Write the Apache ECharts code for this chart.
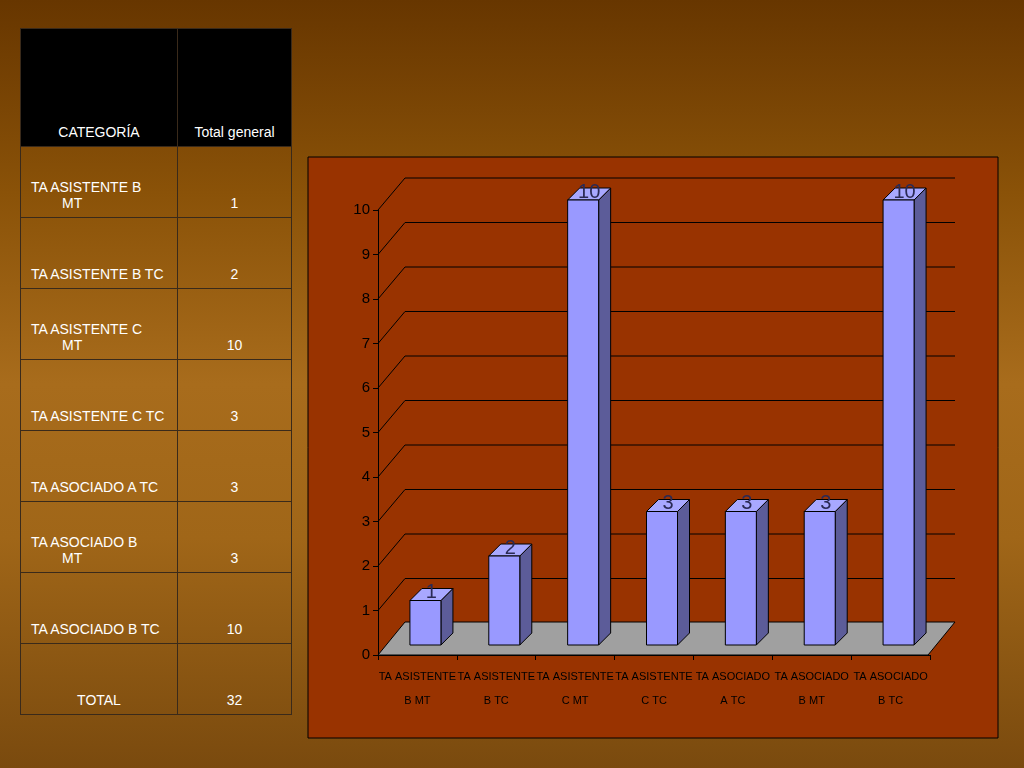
<!DOCTYPE html>
<html><head><meta charset="utf-8">
<script src="https://cdn.jsdelivr.net/npm/echarts@6/dist/echarts.min.js"></script>
<style>
html,body{margin:0;padding:0;width:1024px;height:768px;overflow:hidden;
background:linear-gradient(180deg,#673600 0%,#8a5208 25%,#a86c1c 50%,#a06618 70%,#7a4a0e 100%);font-family:"Liberation Sans",Arial,sans-serif;}
#tbl{position:absolute;left:20px;top:28px;border-collapse:collapse;color:#fff;font-size:14px;}
#tbl td{border:1px solid #3a2a1a;vertical-align:bottom;padding:0 0 6px 0;}
#tbl td.c{width:156px;}
#tbl td.v{width:113px;text-align:center;}
#chart{position:absolute;left:0;top:0;width:1024px;height:768px;}
</style></head><body>
<table id="tbl"></table>
<div id="chart"></div>
<script>
const categories=["TA ASISTENTE B MT","TA ASISTENTE B TC","TA ASISTENTE C MT","TA ASISTENTE C TC","TA ASOCIADO A TC","TA ASOCIADO B MT","TA ASOCIADO B TC"];
const tableLabels=["TA ASISTENTE B<br>&nbsp;&nbsp;&nbsp;&nbsp;&nbsp;&nbsp;&nbsp;&nbsp;MT","TA ASISTENTE B TC","TA ASISTENTE C<br>&nbsp;&nbsp;&nbsp;&nbsp;&nbsp;&nbsp;&nbsp;&nbsp;MT","TA ASISTENTE C TC","TA ASOCIADO A TC","TA ASOCIADO B<br>&nbsp;&nbsp;&nbsp;&nbsp;&nbsp;&nbsp;&nbsp;&nbsp;MT","TA ASOCIADO B TC"];
const axisLabels=["TA ASISTENTE\nB MT","TA ASISTENTE\nB TC","TA ASISTENTE\nC MT","TA ASISTENTE\nC TC","TA ASOCIADO\nA TC","TA ASOCIADO\nB MT","TA ASOCIADO\nB TC"];
const values=[1,2,10,3,3,3,10];
const total=32;
const gridValues=[0,1,2,3,4,5,6,7,8,9,10];

let h='<tr style="height:118px;background:#000"><td class="c" style="text-align:center">CATEGORÍA</td><td class="v">Total general</td></tr>';
tableLabels.forEach((l,i)=>{h+=`<tr style="height:71px"><td class="c" style="padding-left:10px;width:146px">${l}</td><td class="v">${values[i]}</td></tr>`;});
h+=`<tr style="height:71px"><td class="c" style="text-align:center">TOTAL</td><td class="v">${total}</td></tr>`;
document.getElementById('tbl').innerHTML=h;

const chart=echarts.init(document.getElementById('chart'));
const DX=12,DY=-12,FX=8,FY=-10,BW=31;
chart.setOption({
  animation:false,
  graphic:[{type:'rect',shape:{x:308,y:157,width:690,height:581},style:{fill:'#993300',stroke:'#000',lineWidth:1},z:-10}],
  grid:{left:378,right:94,top:210,bottom:113},
  xAxis:{type:'category',data:axisLabels,axisLine:{lineStyle:{color:'#000'}},axisTick:{show:true,lineStyle:{color:'#000'}},
    axisLabel:{color:'#000',fontFamily:'Liberation Sans',fontSize:11,lineHeight:24,margin:10,interval:0}},
  yAxis:{type:'value',min:0,max:10,interval:1,axisLine:{show:true,lineStyle:{color:'#000'}},axisTick:{show:true,lineStyle:{color:'#000'}},
    splitLine:{show:false},axisLabel:{color:'#000',fontFamily:'Liberation Sans',fontSize:15}},
  series:[
    {type:'custom',z:1,data:gridValues.map(v=>[0,v]),renderItem:(p,api)=>{
      const y=api.coord([0,api.value(1)])[1];const x0=378;
      const ch=[];
      if(api.value(1)===0){
        ch.push({type:'polygon',shape:{points:[[x0,655],[405,622],[955,622],[928,655]]},style:{fill:'#a0a0a0',stroke:'#000',lineWidth:1}});
      }else{
        ch.push({type:'polyline',shape:{points:[[x0,y],[x0+27,y-32],[955,y-32]]},style:{stroke:'#000',lineWidth:1,fill:null}});
      }
      return {type:'group',children:ch};
    }},
    {type:'custom',z:5,data:values.map((v,i)=>[i,v]),renderItem:(p,api)=>{
      const t=api.coord([api.value(0),api.value(1)]);const b=api.coord([api.value(0),0]);
      const x=t[0]-BW/2+FX, yt=t[1]+FY, yb=b[1]+FY;
      return {type:'group',children:[
        {type:'polygon',shape:{points:[[x+BW,yt],[x+BW+DX,yt+DY],[x+BW+DX,yb+DY],[x+BW,yb]]},style:{fill:'#5c5c99',stroke:'#000',lineWidth:1}},
        {type:'polygon',shape:{points:[[x,yt],[x+DX,yt+DY],[x+BW+DX,yt+DY],[x+BW,yt]]},style:{fill:'#a8a8ff',stroke:'#000',lineWidth:1}},
        {type:'rect',shape:{x:x,y:yt,width:BW,height:yb-yt},style:{fill:'#9999ff',stroke:'#000',lineWidth:1}},
        {type:'text',style:{text:String(api.value(1)),x:x+BW/2+6,y:yt+2,align:'center',verticalAlign:'bottom',fill:'#2a2a55',font:'20px "Liberation Sans"'}}
      ]};
    }}
  ]
});
</script></body></html>
